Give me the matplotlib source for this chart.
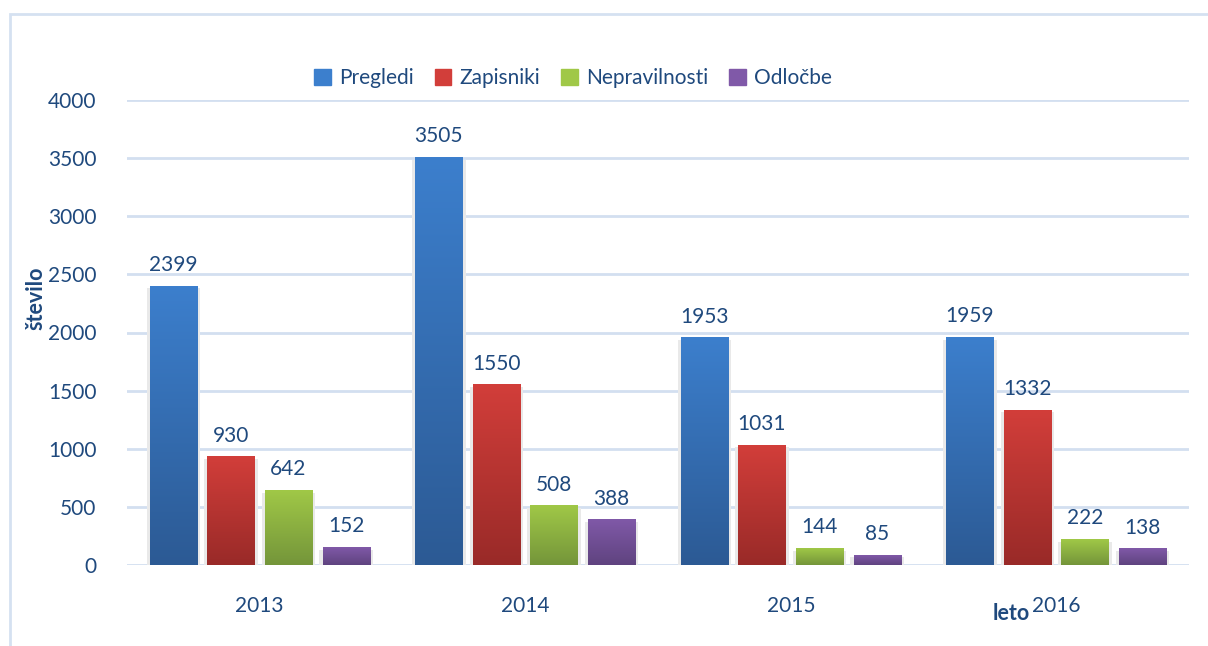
import matplotlib
matplotlib.use("Agg")
import matplotlib.pyplot as plt
import matplotlib.colors as mcolors
from matplotlib.patches import Rectangle
import numpy as np

# ==============================================================
# PODATKI
# ==============================================================
leta = ["2013", "2014", "2015", "2016"]
serije = ["Pregledi", "Zapisniki", "Nepravilnosti", "Odločbe"]

pregledi = [2399, 3505, 1953, 1959]
zapisniki = [930, 1550, 1031, 1332]
nepravilnosti = [642, 508, 144, 222]
odlocbe = [152, 388, 85, 138]

# barve: (zgoraj, spodaj)
barve = [("#3C7FCD", "#2C5A94"),
         ("#D23E3A", "#992A28"),
         ("#A0C847", "#74953A"),
         ("#8059A8", "#5F437F")]

TXT = "#1F497D"
MREZA = "#D3DFF0"

plt.rcParams['font.family'] = ['Lato', 'DejaVu Sans']

# ==============================================================
# GRAF
# ==============================================================
fig = plt.figure(figsize=(12.08, 6.46), dpi=100)
W, H = 1208, 646
ax = fig.add_axes([127 / W, 1 - 565 / H, (1189 - 127) / W, (565 - 100) / H])

x = np.arange(len(leta))
sirina = 0.178
korak = 0.217
odmiki = [-1.5 * korak, -0.5 * korak, 0.5 * korak, 1.5 * korak]

grad = np.linspace(0, 1, 256).reshape(-1, 1)

for i, vrednosti in enumerate([pregledi, zapisniki, nepravilnosti, odlocbe]):
    cmap = mcolors.LinearSegmentedColormap.from_list("g%d" % i, [barve[i][1], barve[i][0]])
    for j, v in enumerate(vrednosti):
        x0 = x[j] + odmiki[i] - sirina / 2
        # senca
        ax.add_patch(Rectangle((x0 - 0.012, -25), sirina + 0.024, v + 5,
                               color="#E9E9E9", zorder=2, lw=0))
        ax.imshow(grad, extent=(x0, x0 + sirina, 0, v), origin="lower",
                  cmap=cmap, aspect="auto", zorder=3)
        ax.text(x[j] + odmiki[i], v + 95, str(v), ha="center", va="bottom",
                fontsize=15, color=TXT, zorder=4)

ax.set_xlim(-0.5, 3.5)
ax.set_ylim(0, 4000)
ax.set_yticks(range(0, 4001, 500))
ax.set_xticks(x)
ax.set_xticklabels(leta)
ax.tick_params(axis="both", length=0, labelsize=15, labelcolor=TXT)
ax.tick_params(axis="y", pad=22)
ax.tick_params(axis="x", pad=22)
ax.grid(axis="y", color=MREZA, lw=2)
ax.set_axisbelow(True)
for s in ax.spines.values():
    s.set_visible(False)

# legenda
h = [Rectangle((0, 0), 1, 1, color=b[0]) for b in barve]
fig.legend(h, serije, loc="center", bbox_to_anchor=(573 / W, 1 - 78 / H), ncol=4,
           frameon=False, fontsize=15, labelcolor=TXT, handlelength=0.8,
           handleheight=0.8, handletextpad=0.4, columnspacing=1.0)

fig.text(36 / W, 1 - 298 / H, "število", rotation=90, ha="center", va="center",
         fontsize=15.5, fontweight="bold", color=TXT)
fig.text(1011 / W, 1 - 613 / H, "leto", ha="center", va="center",
         fontsize=15.5, fontweight="bold", color=TXT)

# okvir
fig.add_artist(Rectangle((10 / W, -0.1), 1.2, 1 - 14 / H + 0.1, transform=fig.transFigure,
                         fill=False, edgecolor="#D5E1F1", lw=2))

fig.savefig("out.png", dpi=100)
